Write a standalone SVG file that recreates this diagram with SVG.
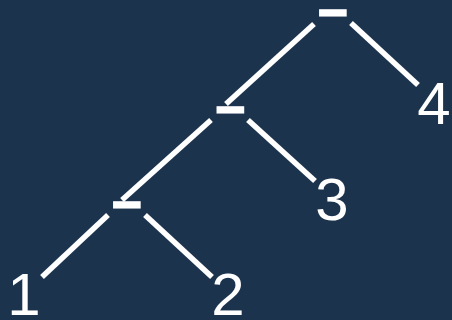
<svg xmlns="http://www.w3.org/2000/svg" width="452" height="320" viewBox="0 0 452 320">
<style>
.op{font-family:"Liberation Sans",Arial,sans-serif;font-size:52px;font-weight:bold;fill:#fff;stroke:#fff;stroke-width:1.5;text-anchor:middle}
.leaf{font-family:"Liberation Sans",Arial,sans-serif;font-size:60px;fill:#fff;text-anchor:middle}
.edges line{stroke:#fff;stroke-width:5.5}
</style>
<rect width="452" height="320" fill="#1c334e"/>
<g class="edges" id="connectors">
<line x1="314" y1="24" x2="226" y2="104"/>
<line x1="351" y1="23" x2="418" y2="85"/>
<line x1="211" y1="120" x2="122" y2="200"/>
<line x1="248" y1="120" x2="315" y2="181"/>
<line x1="108" y1="215" x2="42" y2="277"/>
<line x1="145" y1="215" x2="212" y2="277"/>
</g>
<g id="n0"><text class="op" x="333" y="30">−</text></g>
<g id="n1"><text class="op" x="230.5" y="127">−</text></g>
<g id="n2"><text class="op" x="127" y="222">−</text></g>
<g id="n3"><text class="leaf" x="434" y="124">4</text></g>
<g id="n4"><text class="leaf" x="332" y="220">3</text></g>
<g id="n5"><text class="leaf" x="24" y="315">1</text></g>
<g id="n6"><text class="leaf" x="228" y="315">2</text></g>
</svg>
